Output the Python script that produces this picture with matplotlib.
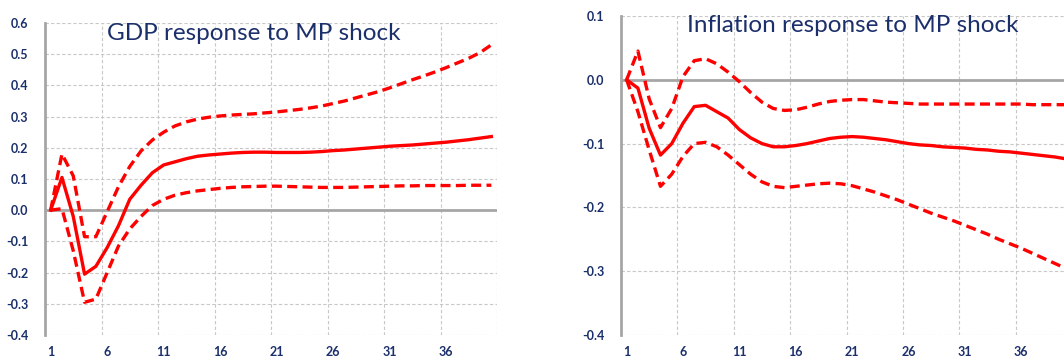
import numpy as np
import matplotlib.pyplot as plt
from matplotlib.ticker import FixedLocator, FuncFormatter

# periods 1..40
periods = np.arange(1, 41)

gdp_mid = [0.0, 0.105, -0.02, -0.205, -0.18, -0.12, -0.05, 0.035, 0.08, 0.12,
           0.145, 0.155, 0.165, 0.173, 0.177, 0.18, 0.183, 0.185, 0.186, 0.186,
           0.185, 0.185, 0.185, 0.186, 0.188, 0.191, 0.193, 0.196, 0.199, 0.202,
           0.205, 0.207, 0.209, 0.212, 0.215, 0.218, 0.222, 0.226, 0.231, 0.236]
gdp_hi = [0.0, 0.18, 0.11, -0.085, -0.085, -0.005, 0.075, 0.14, 0.19, 0.225,
          0.25, 0.27, 0.283, 0.292, 0.298, 0.302, 0.305, 0.307, 0.309, 0.312,
          0.315, 0.319, 0.323, 0.328, 0.334, 0.342, 0.35, 0.36, 0.37, 0.38,
          0.392, 0.405, 0.418, 0.43, 0.443, 0.457, 0.472, 0.487, 0.505, 0.53]
gdp_lo = [0.0, 0.005, -0.13, -0.295, -0.285, -0.2, -0.115, -0.06, -0.02, 0.015,
          0.035, 0.048, 0.056, 0.062, 0.066, 0.07, 0.073, 0.075, 0.076, 0.077,
          0.077, 0.076, 0.075, 0.074, 0.073, 0.073, 0.073, 0.074, 0.075, 0.076,
          0.077, 0.078, 0.078, 0.079, 0.079, 0.079, 0.079, 0.08, 0.08, 0.08]

inf_mid = [0.0, -0.013, -0.076, -0.118, -0.1, -0.068, -0.042, -0.04, -0.05, -0.06,
           -0.078, -0.091, -0.1, -0.105, -0.105, -0.103, -0.1, -0.096, -0.092, -0.09,
           -0.089, -0.09, -0.092, -0.094, -0.097, -0.1, -0.102, -0.103, -0.105, -0.106,
           -0.107, -0.109, -0.11, -0.112, -0.113, -0.115, -0.117, -0.119, -0.121, -0.124]
inf_hi = [0.0, 0.045, -0.03, -0.075, -0.045, 0.005, 0.03, 0.033, 0.025, 0.012,
          -0.003, -0.02, -0.035, -0.045, -0.048, -0.047, -0.043, -0.038, -0.034, -0.032,
          -0.031, -0.031, -0.033, -0.035, -0.036, -0.037, -0.038, -0.038, -0.038, -0.038,
          -0.038, -0.038, -0.038, -0.038, -0.038, -0.038, -0.039, -0.039, -0.039, -0.039]
inf_lo = [0.0, -0.05, -0.11, -0.167, -0.148, -0.12, -0.1, -0.098, -0.105, -0.118,
          -0.133, -0.148, -0.16, -0.167, -0.169, -0.167, -0.165, -0.163, -0.162, -0.163,
          -0.166, -0.171, -0.176, -0.182, -0.188, -0.195, -0.202, -0.209, -0.215, -0.221,
          -0.228, -0.235, -0.242, -0.25, -0.257, -0.264, -0.272, -0.28, -0.288, -0.296]

x_labels = ['1', '6', '11', '16', '21', '26', '31', '36']
x_label_pos = [1, 6, 11, 16, 21, 26, 31, 36]

NAVY = '#1B2F6B'
RED = '#FF0000'
GRID = '#C8C8C8'
AXIS = '#A6A6A6'

plt.rcParams['font.family'] = ['Lato', 'DejaVu Sans']

fig = plt.figure(figsize=(10.64, 3.62), dpi=100)
fig.set_facecolor('white')

W, H = 1064, 362
ax1 = fig.add_axes([45 / W, 27 / H, 452 / W, 312 / H])
ax2 = fig.add_axes([621 / W, 27 / H, 451 / W, 319 / H])


def fmt(v, p):
    if abs(v) < 1e-9:
        v = 0.0
    return f'{v:.1f}'


def style(ax, ymin, ymax):
    ax.set_xlim(0.5, 40.5)
    ax.set_ylim(ymin, ymax)
    for s in ['top', 'right', 'bottom']:
        ax.spines[s].set_visible(False)
    ax.spines['left'].set_color(AXIS)
    ax.spines['left'].set_linewidth(2)
    yt = np.round(np.arange(ymin, ymax + 0.001, 0.1), 1)
    ax.set_yticks(yt)
    ax.yaxis.set_major_formatter(FuncFormatter(fmt))
    ax.set_xticks(x_label_pos)
    ax.set_xticklabels(x_labels)
    ax.xaxis.set_minor_locator(FixedLocator(np.arange(5.5, 41, 5)))
    ax.tick_params(axis='both', which='both', length=0, colors=NAVY, labelsize=9)
    ax.tick_params(axis='y', pad=12)
    ax.tick_params(axis='x', pad=8)
    for lab in ax.get_xticklabels() + ax.get_yticklabels():
        lab.set_fontweight('bold')
    ax.grid(True, axis='y', which='major', color=GRID, linestyle=(0, (3, 2)), linewidth=0.8)
    ax.grid(True, axis='x', which='minor', color=GRID, linestyle=(0, (3, 2)), linewidth=0.8)
    ax.axhline(0, color=AXIS, linewidth=2, zorder=2)
    ax.set_axisbelow(True)


style(ax1, -0.4, 0.6)
style(ax2, -0.4, 0.1)

ax1.plot(periods, gdp_mid, color=RED, linewidth=2.4, zorder=3)
ax1.plot(periods, gdp_hi, color=RED, linewidth=2.4, linestyle=(0, (3, 1.6)), zorder=3)
ax1.plot(periods, gdp_lo, color=RED, linewidth=2.4, linestyle=(0, (3, 1.6)), zorder=3)

ax2.plot(periods, inf_mid, color=RED, linewidth=2.4, zorder=3)
ax2.plot(periods, inf_hi, color=RED, linewidth=2.4, linestyle=(0, (3, 1.6)), zorder=3)
ax2.plot(periods, inf_lo, color=RED, linewidth=2.4, linestyle=(0, (3, 1.6)), zorder=3)

fig.text(254 / W, 1 - 33 / H, 'GDP response to MP shock', color=NAVY,
         fontsize=17.5, ha='center', va='center')
fig.text(853 / W, 1 - 25 / H, 'Inflation response to MP shock', color=NAVY,
         fontsize=17.5, ha='center', va='center')

fig.savefig('out.png', dpi=100)
